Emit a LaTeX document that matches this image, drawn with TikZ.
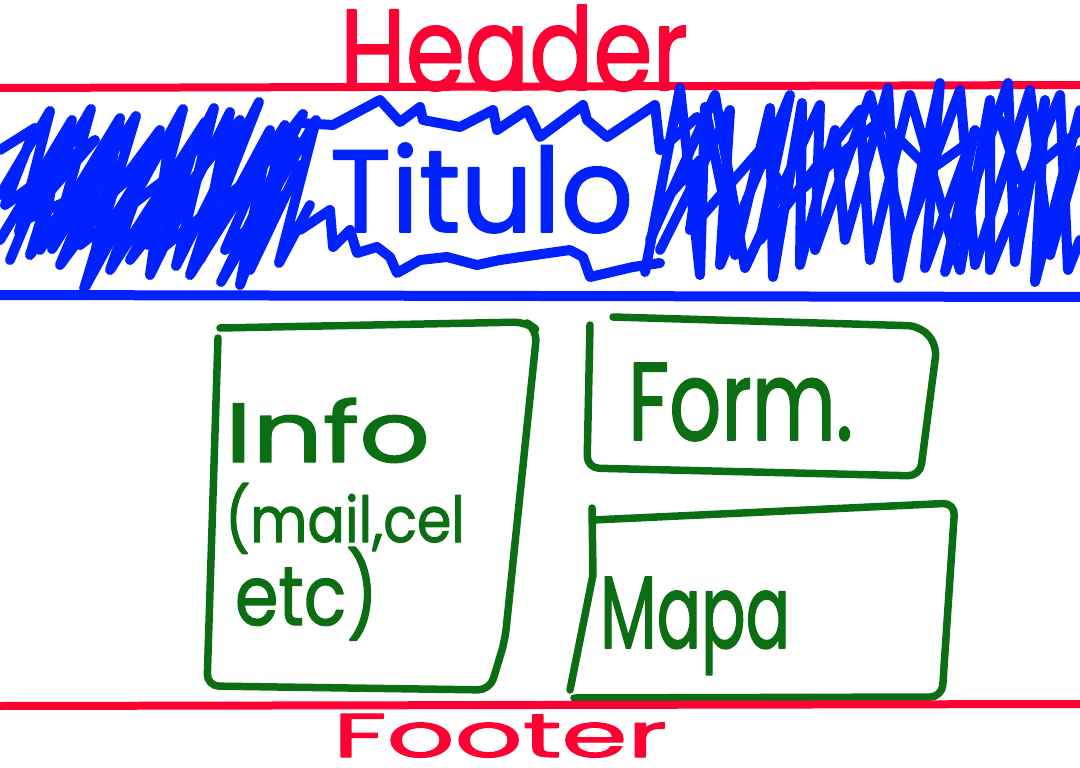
\documentclass[tikz,border=0pt]{standalone}
\usepackage{fontspec}
\usepackage{graphicx}
\setmainfont{Poppins}
\newfontfamily\penfont{Poppins}[FakeBold=1.6]
\definecolor{penred}{HTML}{FF0033}
\definecolor{penblue}{HTML}{0022FF}
\definecolor{pengreen}{HTML}{0B6E12}
\begin{document}
\begin{tikzpicture}[x=1pt,y=-1pt,line cap=round,line join=round,
  redpen/.style={draw=penred,line width=8pt},
  bluepen/.style={draw=penblue,line width=10pt},
  greenpen/.style={draw=pengreen,line width=7.5pt,rounded corners=12pt},
  word/.style={inner sep=0pt,outer sep=0pt,anchor=base west,font=\penfont}]
\useasboundingbox (0,0) rectangle (1080,768);

% header band
\node[word,text=penred] (header) at (340,90) {\resizebox{348pt}{85pt}{Header}};
\draw[redpen] (0,88) -- (1080,85);

% scribbled fill, left of the title
\draw[bluepen] (0,195) -- (50,111) -- (19,232) -- (91,109) -- (52,249) -- (136,116)
  -- (84,289) -- (183,109) -- (148,245) -- (214,108) -- (176,266) -- (259,102)
  -- (203,244) -- (303,114) -- (221,282) -- (316,120) -- (279,263) -- (310,205);
\draw[bluepen] (0,240) -- (72,120) -- (30,255) -- (112,140) -- (60,265) -- (160,130)
  -- (110,270) -- (205,122) -- (130,260) -- (240,120) -- (190,275) -- (285,125)
  -- (250,270) -- (300,165);
\draw[bluepen] (0,150) -- (35,128) -- (5,205) -- (95,140) -- (25,220) -- (125,175)
  -- (70,230) -- (150,160) -- (100,240);
\draw[bluepen] (10,260) -- (60,140) -- (40,250) -- (120,118) -- (95,255) -- (170,135)
  -- (150,275) -- (230,112) -- (200,260) -- (270,130) -- (240,285) -- (295,140);
\draw[bluepen] (45,235) -- (100,175) -- (80,245) -- (190,160) -- (160,250) -- (260,170)
  -- (225,250) -- (290,190);

% scribbled fill, right of the title
\draw[bluepen] (645,272) -- (680,88) -- (700,275) -- (705,107) -- (735,255) -- (770,108)
  -- (773,277) -- (802,103) -- (800,265) -- (835,130) -- (845,240) -- (888,88)
  -- (898,278) -- (940,83) -- (925,268) -- (975,130) -- (945,272) -- (1008,83)
  -- (1015,262) -- (1045,100) -- (1035,282) -- (1080,110);
\draw[bluepen] (660,250) -- (730,110) -- (720,265) -- (790,95) -- (760,240) -- (860,110)
  -- (870,260) -- (910,95) -- (960,270) -- (990,100) -- (990,270) -- (1060,95)
  -- (1068,270) -- (1080,240);
\draw[bluepen] (650,240) -- (715,95) -- (745,268) -- (820,105) -- (815,250) -- (870,95)
  -- (905,240) -- (960,90) -- (975,265) -- (1030,90) -- (1050,255) -- (1080,150);
\draw[bluepen] (665,200) -- (700,160) -- (690,230) -- (760,150) -- (790,200) -- (880,120)
  -- (930,170) -- (1000,120) -- (1020,180) -- (1080,130);

% jagged outline around the title
\draw[bluepen] (300,123) -- (333,125) -- (380,100) -- (400,122) -- (420,107) -- (423,120)
  -- (460,127) -- (493,110) -- (497,130) -- (527,110) -- (540,137) -- (583,105)
  -- (587,120) -- (607,137) -- (655,105) -- (660,150) -- (697,117);
\draw[bluepen] (300,230) -- (330,210) -- (333,247) -- (350,230) -- (357,253) -- (377,247)
  -- (390,257) -- (397,273) -- (420,260) -- (447,257) -- (477,265) -- (500,260)
  -- (570,250) -- (583,257) -- (590,277) -- (633,267) -- (660,263);
\node[word,text=penblue] (titulo) at (330,232) {\resizebox{303pt}{89pt}{Titulo}};
\draw[bluepen] (0,295) -- (1080,297);

% content boxes
\draw[greenpen] (218,338) -- (207,686) -- (490,690) -- (505,640) -- (537,330)
  -- (526,322) -- (220,328);
\node[word,text=pengreen] (info) at (225,462) {\resizebox{205pt}{64pt}{Info}};
\node[word,text=pengreen] (contact) at (225,542) {\resizebox{240pt}{59pt}{(mail,cel}};
\node[word,text=pengreen] (etc) at (235,625) {\resizebox{143pt}{78pt}{etc)}};

\draw[greenpen] (590,325) -- (587,468) -- (920,476) -- (937,345) -- (920,326) -- (613,317);
\node[word,text=pengreen] (form) at (628,440) {\resizebox{225pt}{77pt}{Form.}};

\draw[greenpen,rounded corners=0pt] (592,508) -- (593,575) -- (570,690);
\draw[greenpen] (593,520) -- (955,503) -- (942,697) -- (574,698);
\node[word,text=pengreen] (mapa) at (600,648) {\resizebox{190pt}{71pt}{Mapa}};

% footer band
\draw[redpen] (0,706) -- (1080,704);
\node[word,text=penred] (footer) at (333,757) {\resizebox{334pt}{43pt}{Footer}};
\end{tikzpicture}
\end{document}
